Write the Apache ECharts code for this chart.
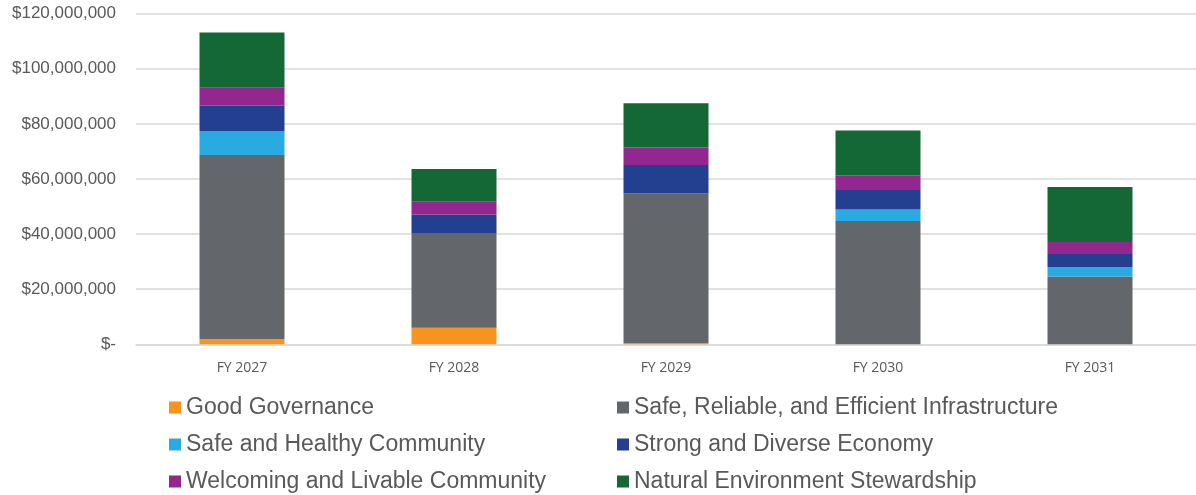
<!DOCTYPE html>
<html>
<head>
<meta charset="utf-8">
<script src="https://cdn.jsdelivr.net/npm/echarts@6/dist/echarts.min.js"></script>
<style>
html,body{margin:0;padding:0;background:#fff;}
#c{width:1196px;height:495px;}
</style>
</head>
<body>
<div id="c"></div>
<script>
const categories = ['FY 2027', 'FY 2028', 'FY 2029', 'FY 2030', 'FY 2031'];
const goodGovernance = [1800000, 6000000, 400000, 0, 0];
const infrastructure = [66900000, 34400000, 54300000, 44800000, 24600000];
const safeHealthy = [8700000, 0, 0, 4100000, 3400000];
const strongEconomy = [9200000, 6700000, 10400000, 7100000, 4800000];
const welcoming = [6500000, 4600000, 6300000, 5400000, 4300000];
const natural = [20100000, 11900000, 16100000, 16200000, 20000000];
const yTicks = [0, 20000000, 40000000, 60000000, 80000000, 100000000, 120000000];

const seriesDefs = [
  {name: 'Good Governance', data: goodGovernance, color: '#F7941D'},
  {name: 'Safe, Reliable, and Efficient Infrastructure', data: infrastructure, color: '#63666A'},
  {name: 'Safe and Healthy Community', data: safeHealthy, color: '#29ABE2'},
  {name: 'Strong and Diverse Economy', data: strongEconomy, color: '#233F8F'},
  {name: 'Welcoming and Livable Community', data: welcoming, color: '#92278F'},
  {name: 'Natural Environment Stewardship', data: natural, color: '#136835'}
];

const legendText = {fontFamily: 'Liberation Sans, Arial, sans-serif', fontSize: 23, color: '#595959', lineHeight: 23};
const legendRows = [
  ['Good Governance', 'Safe and Healthy Community', 'Welcoming and Livable Community'],
  ['Safe, Reliable, and Efficient Infrastructure', 'Strong and Diverse Economy', 'Natural Environment Stewardship']
];
const legendLefts = [169, 617];
const legends = [];
legendRows.forEach(function (col, ci) {
  col.forEach(function (name, ri) {
    legends.push({
      orient: 'horizontal', left: legendLefts[ci], top: 396 + ri * 37, padding: 0,
      itemWidth: 12, itemHeight: 12, icon: 'rect', textStyle: legendText, data: [name]
    });
  });
});

const chart = echarts.init(document.getElementById('c'), null, {renderer: 'canvas'});
chart.setOption({
  animation: false,
  backgroundColor: '#ffffff',
  grid: {left: 136, right: -10, top: 13.7, bottom: 150.7, containLabel: false},
  legend: legends,
  xAxis: {
    type: 'category',
    data: categories,
    axisLine: {show: true, lineStyle: {color: '#d9d9d9', width: 1.5}},
    axisTick: {show: false},
    axisLabel: {color: '#595959', fontFamily: 'Open Sans, sans-serif', fontSize: 14, margin: 17}
  },
  yAxis: {
    type: 'value',
    min: yTicks[0],
    max: yTicks[yTicks.length - 1],
    interval: yTicks[1] - yTicks[0],
    axisLine: {show: false},
    axisTick: {show: false},
    splitLine: {lineStyle: {color: '#d9d9d9', width: 1.5}},
    axisLabel: {
      color: '#595959', fontFamily: 'Liberation Sans, Arial, sans-serif', fontSize: 17, margin: 20,
      formatter: function (v) { return v === 0 ? '$-' : '$' + v.toLocaleString('en-US'); }
    }
  },
  series: seriesDefs.map(function (s) {
    return {
      name: s.name, type: 'bar', stack: 'total', data: s.data, barWidth: 85,
      itemStyle: {color: s.color}
    };
  })
});
</script>
</body>
</html>
